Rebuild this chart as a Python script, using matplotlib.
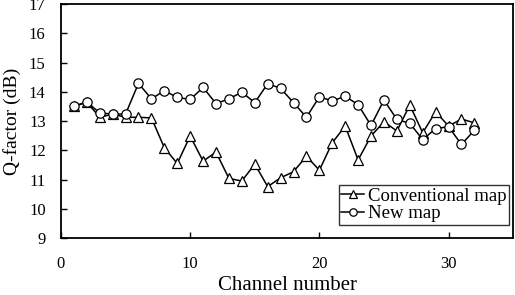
import numpy as np
import matplotlib.pyplot as plt

plt.rcParams['font.family'] = ['Liberation Serif', 'DejaVu Serif']

channels = np.arange(1, 33)
conventional = [13.50, 13.65, 13.13, 13.24, 13.13, 13.13, 13.11, 12.09, 11.55, 12.49,
                11.63, 11.94, 11.04, 10.95, 11.53, 10.76, 11.06, 11.27, 11.80, 11.32,
                12.26, 12.83, 11.67, 12.49, 12.98, 12.66, 13.55, 12.60, 13.32, 12.83,
                13.07, 12.94]
new_map = [13.51, 13.65, 13.28, 13.24, 13.24, 14.29, 13.76, 14.04, 13.81, 13.74,
           14.15, 13.60, 13.76, 13.99, 13.63, 14.28, 14.12, 13.63, 13.13, 13.83,
           13.69, 13.85, 13.56, 12.85, 13.72, 13.06, 12.92, 12.37, 12.74, 12.81,
           12.20, 12.69]

fig = plt.figure(figsize=(5.15, 2.95), dpi=100)
ax = fig.add_axes([0.1184, 0.193, 0.878, 0.793])

ax.plot(channels, conventional, color='black', lw=1.1, marker='^', ms=7,
        mfc='white', mec='black', mew=0.9, label='Conventional map')
ax.plot(channels, new_map, color='black', lw=1.1, marker='o', ms=6.7,
        mfc='white', mec='black', mew=0.9, label='New map')

ax.set_xlim(0, 35)
ax.set_ylim(9, 17)
ax.set_xticks([0, 10, 20, 30])
ax.set_yticks(range(9, 18))
ax.tick_params(direction='in', labelsize=12, length=4, width=1)
ax.tick_params(axis='x', pad=13)
ax.tick_params(axis='y', pad=11)
for s in ax.spines.values():
    s.set_linewidth(1.3)

ax.set_xlabel('Channel number', fontsize=15, labelpad=3)
ax.set_ylabel('Q-factor (dB)', fontsize=14, labelpad=6)

leg = ax.legend(loc='lower right', bbox_to_anchor=(0.991, 0.056), fontsize=13.5,
                frameon=True, fancybox=False, edgecolor='black', markerscale=0.8,
                handlelength=1.2, handletextpad=0.2, borderpad=0.15,
                labelspacing=0.0, borderaxespad=0.0)
leg.get_frame().set_linewidth(1.0)

fig.savefig('out.png', dpi=100)
